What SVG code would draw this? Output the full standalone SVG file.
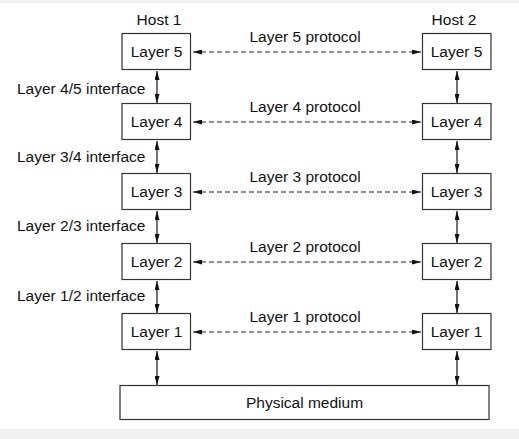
<svg xmlns="http://www.w3.org/2000/svg" width="519" height="439" viewBox="0 0 519 439">
<style>
text{font-family:"Liberation Sans",Arial,sans-serif;font-size:15.5px;fill:#111}
.box{fill:#fff;stroke:#333;stroke-width:1.2}
.c{text-anchor:middle}
.v{stroke:#111;stroke-width:1.2;fill:none;marker-start:url(#a);marker-end:url(#a)}
.d{stroke:#222;stroke-width:1.1;fill:none;stroke-dasharray:5 3;marker-start:url(#a);marker-end:url(#a)}
</style>
<defs>
<marker id="a" viewBox="0 0 9 5" refX="9" refY="2.5" markerWidth="9" markerHeight="5" markerUnits="userSpaceOnUse" orient="auto-start-reverse">
<path d="M0,0L9,2.5L0,5z" fill="#111"/>
</marker>
</defs>
<rect width="519" height="439" fill="#f0f0f0"/>
<rect x="0" y="3" width="519" height="426" fill="#fff"/>
<text class="c" x="159" y="25">Host 1</text>
<text class="c" x="454" y="25">Host 2</text>
<g id="connectors">
<line class="d" x1="193" y1="52" x2="421" y2="52"/>
<line class="d" x1="193" y1="122" x2="421" y2="122"/>
<line class="d" x1="193" y1="192" x2="421" y2="192"/>
<line class="d" x1="193" y1="262" x2="421" y2="262"/>
<line class="d" x1="193" y1="332" x2="421" y2="332"/>
<line class="v" x1="157" y1="71" x2="157" y2="103"/>
<line class="v" x1="157" y1="141" x2="157" y2="173"/>
<line class="v" x1="157" y1="211" x2="157" y2="243"/>
<line class="v" x1="157" y1="281" x2="157" y2="313"/>
<line class="v" x1="157" y1="351" x2="157" y2="385"/>
<line class="v" x1="457" y1="71" x2="457" y2="103"/>
<line class="v" x1="457" y1="141" x2="457" y2="173"/>
<line class="v" x1="457" y1="211" x2="457" y2="243"/>
<line class="v" x1="457" y1="281" x2="457" y2="313"/>
<line class="v" x1="457" y1="351" x2="457" y2="385"/>
<text class="c" x="305" y="42">Layer 5 protocol</text>
<text class="c" x="305" y="112">Layer 4 protocol</text>
<text class="c" x="305" y="182">Layer 3 protocol</text>
<text class="c" x="305" y="252">Layer 2 protocol</text>
<text class="c" x="305" y="322">Layer 1 protocol</text>
<text x="17" y="94">Layer 4/5 interface</text>
<text x="17" y="162">Layer 3/4 interface</text>
<text x="17" y="231">Layer 2/3 interface</text>
<text x="17" y="301">Layer 1/2 interface</text>
</g>
<g id="h1l5"><rect class="box" x="122" y="33.5" width="68.5" height="36"/><text class="c" x="156.5" y="57">Layer 5</text></g>
<g id="h1l4"><rect class="box" x="122" y="103.5" width="68.5" height="36"/><text class="c" x="156.5" y="127">Layer 4</text></g>
<g id="h1l3"><rect class="box" x="122" y="173.5" width="68.5" height="36"/><text class="c" x="156.5" y="197">Layer 3</text></g>
<g id="h1l2"><rect class="box" x="122" y="243.5" width="68.5" height="36"/><text class="c" x="156.5" y="267">Layer 2</text></g>
<g id="h1l1"><rect class="box" x="122" y="313.5" width="68.5" height="36"/><text class="c" x="156.5" y="337">Layer 1</text></g>
<g id="h2l5"><rect class="box" x="422.5" y="33.5" width="68.5" height="36"/><text class="c" x="456.5" y="57">Layer 5</text></g>
<g id="h2l4"><rect class="box" x="422.5" y="103.5" width="68.5" height="36"/><text class="c" x="456.5" y="127">Layer 4</text></g>
<g id="h2l3"><rect class="box" x="422.5" y="173.5" width="68.5" height="36"/><text class="c" x="456.5" y="197">Layer 3</text></g>
<g id="h2l2"><rect class="box" x="422.5" y="243.5" width="68.5" height="36"/><text class="c" x="456.5" y="267">Layer 2</text></g>
<g id="h2l1"><rect class="box" x="422.5" y="313.5" width="68.5" height="36"/><text class="c" x="456.5" y="337">Layer 1</text></g>
<g id="medium"><rect class="box" x="120" y="385.5" width="369" height="34"/><text class="c" x="304.5" y="408">Physical medium</text></g>
</svg>
